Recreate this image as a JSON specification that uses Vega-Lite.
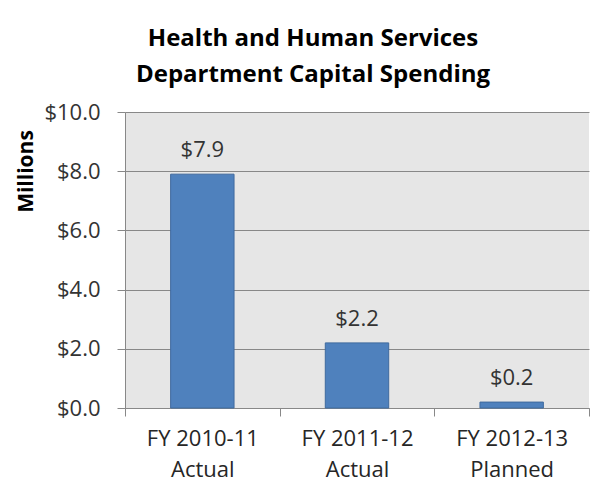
{
  "$schema": "https://vega.github.io/schema/vega-lite/v6.json",
  "width": 464,
  "height": 296,
  "autosize": {"type": "none"},
  "padding": {"left": 125, "top": 112, "right": 9, "bottom": 85},
  "background": "white",
  "title": {
    "text": ["Health and Human Services", "Department Capital Spending"],
    "font": "Open Sans",
    "fontSize": 24,
    "fontWeight": "bold",
    "color": "#000000",
    "lineHeight": 36,
    "anchor": "middle",
    "frame": "group",
    "dx": -44,
    "offset": 14
  },
  "data": {
    "values": [
      {"year": "FY 2010-11", "status": "Actual", "value": 7.9},
      {"year": "FY 2011-12", "status": "Actual", "value": 2.2},
      {"year": "FY 2012-13", "status": "Planned", "value": 0.2}
    ]
  },
  "encoding": {
    "x": {
      "field": "year",
      "type": "nominal",
      "sort": null,
      "scale": {"paddingInner": 0, "paddingOuter": 0},
      "axis": {
        "title": null,
        "labelAngle": 0,
        "labelExpr": "datum.label ? [datum.label, datum.label == 'FY 2012-13' ? 'Planned' : 'Actual'] : ''",
        "labelFont": "Open Sans",
        "labelFontSize": 22,
        "labelColor": "#262626",
        "labelLineHeight": 31,
        "labelPadding": 12,
        "tickBand": "extent",
        "tickSize": 8,
        "tickColor": "#888888",
        "domainColor": "#888888",
        "grid": false
      }
    },
    "y": {
      "field": "value",
      "type": "quantitative",
      "scale": {"domain": [0, 10]},
      "axis": {
        "title": "Millions",
        "titleFont": "Open Sans",
        "titleFontSize": 21,
        "titleFontWeight": "bold",
        "titleColor": "#000000",
        "titleX": -89,
        "titleY": 59,
        "titleAlign": "center",
        "titleBaseline": "bottom",
        "titleAngle": -90,
        "values": [0, 2, 4, 6, 8, 10],
        "format": "$.1f",
        "labelFont": "Open Sans",
        "labelFontSize": 22,
        "labelColor": "#333333",
        "labelPadding": 17,
        "tickSize": 8,
        "tickColor": "#888888",
        "domainColor": "#888888",
        "grid": true,
        "gridColor": "#888888",
        "gridWidth": 1
      }
    }
  },
  "layer": [
    {
      "mark": {"type": "bar", "width": {"band": 0.41}, "color": "#4f81bd", "stroke": "#3f6a9e", "strokeWidth": 1}
    },
    {
      "mark": {"type": "text", "font": "Open Sans", "fontSize": 22, "color": "#333333", "baseline": "alphabetic", "dy": -17},
      "encoding": {
        "text": {"field": "value", "type": "quantitative", "format": "$.1f"}
      }
    }
  ],
  "config": {
    "view": {"fill": "#e6e6e6", "stroke": null}
  }
}
